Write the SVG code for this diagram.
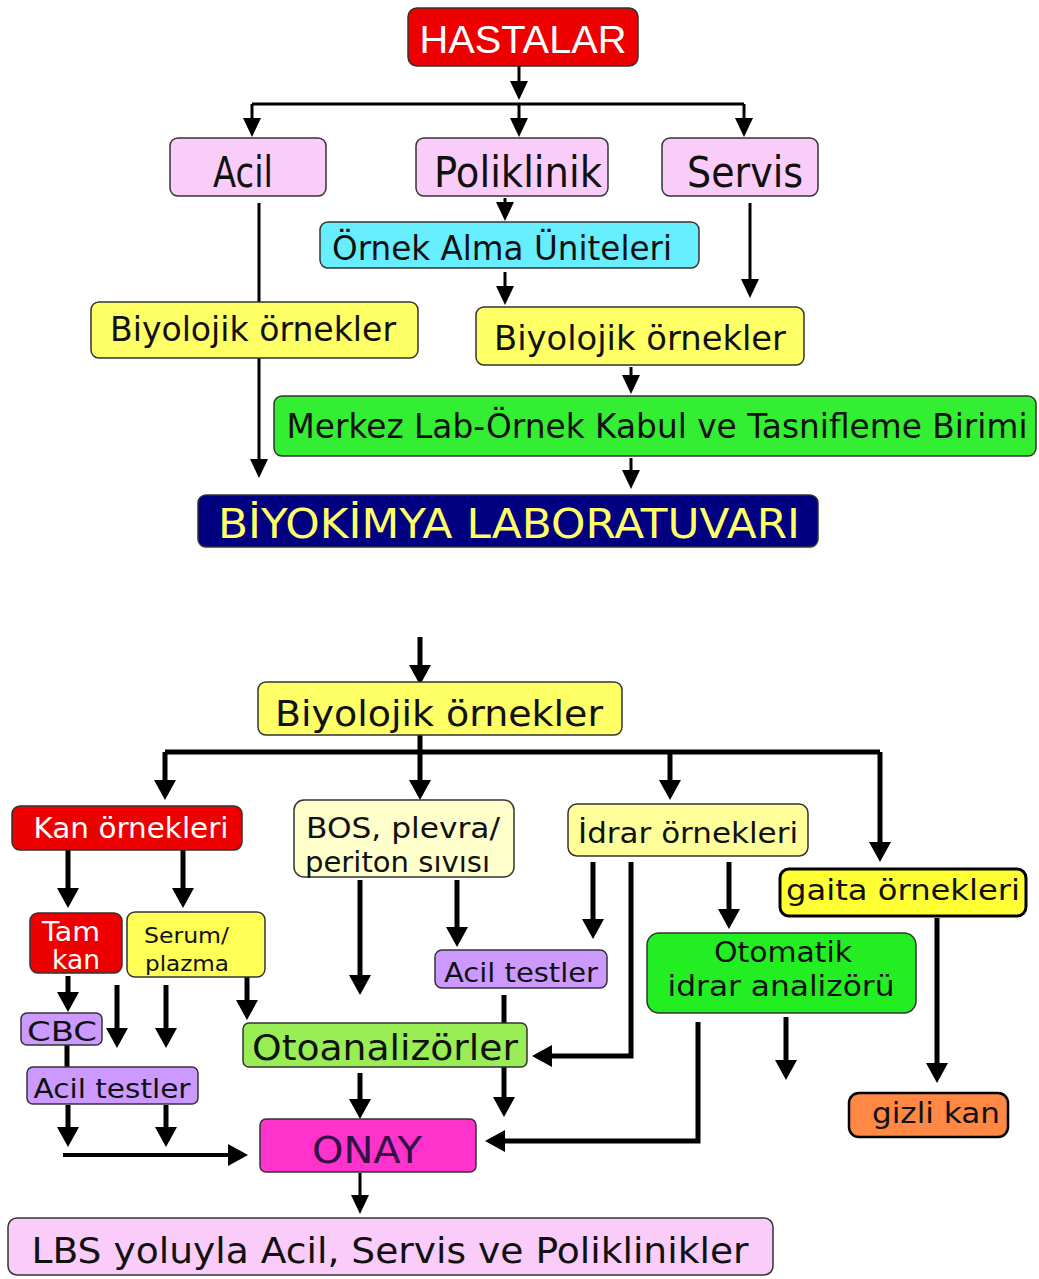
<svg xmlns="http://www.w3.org/2000/svg" width="1039" height="1279" viewBox="0 0 1039 1279">
<defs>
<style>
.b{stroke:#333;stroke-width:1.5}
.t{font-family:"DejaVu Sans","Verdana",sans-serif;fill:#111}
.c{text-anchor:middle}
.ln{fill:none;stroke:#000;stroke-width:3}
.lk{fill:none;stroke:#000;stroke-width:5}
</style>
<marker id="a" markerUnits="userSpaceOnUse" markerWidth="19" markerHeight="18" viewBox="0 0 19 18" refX="15" refY="9" orient="auto"><path d="M0,0 L19,9 L0,18 z" fill="#000"/></marker>
<marker id="k" markerUnits="userSpaceOnUse" markerWidth="20" markerHeight="22" viewBox="0 0 20 22" refX="15" refY="11" orient="auto"><path d="M0,0 L20,11 L0,22 z" fill="#000"/></marker>
</defs>
<rect width="1039" height="1279" fill="#fff"/>
<g id="connectors">
<path class="ln" d="M519,66 V96" marker-end="url(#a)"/>
<path class="ln" d="M252,104 H744"/>
<path class="ln" d="M252,104 V133" marker-end="url(#a)"/>
<path class="ln" d="M519,104 V133" marker-end="url(#a)"/>
<path class="ln" d="M744,104 V133" marker-end="url(#a)"/>
<path class="ln" d="M259,203 V474" marker-end="url(#a)"/>
<path class="ln" d="M505,198 V217" marker-end="url(#a)"/>
<path class="ln" d="M505,272 V301" marker-end="url(#a)"/>
<path class="ln" d="M750,203 V294" marker-end="url(#a)"/>
<path class="ln" d="M631,367 V390" marker-end="url(#a)"/>
<path class="ln" d="M631,458 V485" marker-end="url(#a)"/>
<path class="lk" d="M420,637 V680" marker-end="url(#k)"/>
<path class="lk" d="M420,735 V752"/>
<path class="lk" d="M165,752 H880"/>
<path class="lk" d="M165,752 V795" marker-end="url(#k)"/>
<path class="lk" d="M420,752 V795" marker-end="url(#k)"/>
<path class="lk" d="M670,752 V795" marker-end="url(#k)"/>
<path class="lk" d="M880,752 V857" marker-end="url(#k)"/>
<path class="lk" d="M68,850 V903" marker-end="url(#k)"/>
<path class="lk" d="M183,850 V903" marker-end="url(#k)"/>
<path class="lk" d="M68,976 V1007" marker-end="url(#k)"/>
<path class="lk" d="M117,985 V1043" marker-end="url(#k)"/>
<path class="lk" d="M166,985 V1043" marker-end="url(#k)"/>
<path class="lk" d="M247,977 V1015" marker-end="url(#k)"/>
<path class="lk" d="M67,1045 V1067"/>
<path class="lk" d="M68,1105 V1142" marker-end="url(#k)"/>
<path class="lk" d="M166,1105 V1142" marker-end="url(#k)"/>
<path class="ln" style="stroke-width:4" d="M63,1155 H243" marker-end="url(#k)"/>
<path class="lk" d="M360,880 V990" marker-end="url(#k)"/>
<path class="lk" d="M457,880 V942" marker-end="url(#k)"/>
<path class="lk" d="M593,862 V934" marker-end="url(#k)"/>
<path class="lk" d="M631,862 V1056 H537" marker-end="url(#k)"/>
<path class="lk" d="M729,862 V924" marker-end="url(#k)"/>
<path class="lk" d="M504,995 V1112" marker-end="url(#k)"/>
<path class="lk" d="M360,1073 V1114" marker-end="url(#k)"/>
<path class="lk" d="M698,1022 V1141 H490" marker-end="url(#k)"/>
<path class="lk" d="M786,1017 V1075" marker-end="url(#k)"/>
<path class="lk" d="M937,918 V1078" marker-end="url(#k)"/>
<path class="ln" d="M360,1173 V1210" marker-end="url(#a)"/>
</g>
<g id="hastalar"><rect class="b" x="408" y="8" width="230" height="58" rx="9" fill="#ee0000"/><text x="523" y="53" font-family="Liberation Sans, Arial, sans-serif" font-size="38" fill="#fff" text-anchor="middle" textLength="207" lengthAdjust="spacingAndGlyphs">HASTALAR</text></g>
<g id="acil"><rect class="b" x="170" y="138" width="156" height="58" rx="8" fill="#f9ccf9"/><text class="t c" x="243" y="187" font-size="42" textLength="60" lengthAdjust="spacingAndGlyphs">Acil</text></g>
<g id="poliklinik"><rect class="b" x="416" y="138" width="192" height="58" rx="8" fill="#f9ccf9"/><text class="t c" x="518" y="187" font-size="42" textLength="168" lengthAdjust="spacingAndGlyphs">Poliklinik</text></g>
<g id="servis"><rect class="b" x="662" y="138" width="156" height="58" rx="8" fill="#f9ccf9"/><text class="t c" x="745" y="187" font-size="42" textLength="116" lengthAdjust="spacingAndGlyphs">Servis</text></g>
<g id="ornek-alma"><rect class="b" x="320" y="222" width="379" height="46" rx="8" fill="#66eeff"/><text class="t c" x="502" y="260" font-size="33" textLength="340" lengthAdjust="spacingAndGlyphs">Örnek Alma Üniteleri</text></g>
<g id="biyolojik-1"><rect class="b" x="91" y="302" width="327" height="56" rx="8" fill="#ffff66"/><text class="t c" x="253" y="341" font-size="33" textLength="286" lengthAdjust="spacingAndGlyphs">Biyolojik örnekler</text></g>
<g id="biyolojik-2"><rect class="b" x="476" y="307" width="328" height="58" rx="8" fill="#ffff66"/><text class="t c" x="640" y="350" font-size="33" textLength="292" lengthAdjust="spacingAndGlyphs">Biyolojik örnekler</text></g>
<g id="merkez"><rect class="b" x="274" y="396" width="762" height="60" rx="8" fill="#33ee33"/><text class="t c" x="657" y="438" font-size="33" textLength="741" lengthAdjust="spacingAndGlyphs">Merkez Lab-Örnek Kabul ve Tasnifleme Birimi</text></g>
<g id="biyokimya"><rect class="b" x="198" y="495" width="620" height="52" rx="8" fill="#000080"/><text class="t c" x="509" y="538" font-size="40" style="fill:#ffff66" textLength="582" lengthAdjust="spacingAndGlyphs">BİYOKİMYA LABORATUVARI</text></g>
<g id="biyolojik-3"><rect class="b" x="258" y="682" width="364" height="53" rx="8" fill="#ffff66"/><text class="t c" x="439" y="726" font-size="36" textLength="328" lengthAdjust="spacingAndGlyphs">Biyolojik örnekler</text></g>
<g id="kan-ornekleri"><rect class="b" x="12" y="806" width="230" height="44" rx="8" fill="#ee0000"/><text class="t c" x="131" y="838" font-size="28" style="fill:#fff" textLength="195" lengthAdjust="spacingAndGlyphs">Kan örnekleri</text></g>
<g id="bos"><rect class="b" x="294" y="800" width="220" height="77" rx="10" fill="#ffffcc"/><text class="t" x="306" y="838" font-size="28" textLength="194" lengthAdjust="spacingAndGlyphs">BOS, plevra/</text><text class="t" x="305" y="872" font-size="28" textLength="185" lengthAdjust="spacingAndGlyphs">periton sıvısı</text></g>
<g id="idrar-ornekleri"><rect class="b" x="568" y="804" width="240" height="52" rx="9" fill="#ffff99"/><text class="t c" x="688" y="843" font-size="28" textLength="220" lengthAdjust="spacingAndGlyphs">İdrar örnekleri</text></g>
<g id="gaita"><rect x="780" y="869" width="246" height="47" rx="9" fill="#ffff33" stroke="#000" stroke-width="3"/><text class="t c" x="903" y="900" font-size="28" textLength="234" lengthAdjust="spacingAndGlyphs">gaita örnekleri</text></g>
<g id="tam-kan"><rect class="b" x="30" y="913" width="92" height="60" rx="8" fill="#ee0000"/><text class="t c" x="71" y="941" font-size="26" style="fill:#fff" textLength="58" lengthAdjust="spacingAndGlyphs">Tam</text><text class="t c" x="76" y="969" font-size="26" style="fill:#fff" textLength="48" lengthAdjust="spacingAndGlyphs">kan</text></g>
<g id="serum"><rect class="b" x="127" y="912" width="138" height="65" rx="8" fill="#ffff55"/><text class="t" x="144" y="943" font-size="22" textLength="85" lengthAdjust="spacingAndGlyphs">Serum/</text><text class="t" x="145" y="971" font-size="22" textLength="84" lengthAdjust="spacingAndGlyphs">plazma</text></g>
<g id="cbc"><rect class="b" x="21" y="1013" width="81" height="32" rx="6" fill="#cc99ff"/><text class="t c" x="62" y="1041" font-size="26" textLength="70" lengthAdjust="spacingAndGlyphs">CBC</text></g>
<g id="acil-testler-1"><rect class="b" x="27" y="1067" width="171" height="37" rx="6" fill="#cc99ff"/><text class="t c" x="112" y="1098" font-size="26" textLength="157" lengthAdjust="spacingAndGlyphs">Acil testler</text></g>
<g id="acil-testler-2"><rect class="b" x="435" y="950" width="172" height="38" rx="7" fill="#cc99ff"/><text class="t c" x="521" y="982" font-size="27" textLength="154" lengthAdjust="spacingAndGlyphs">Acil testler</text></g>
<g id="otoanalizorler"><rect class="b" x="243" y="1023" width="284" height="44" rx="6" fill="#99ee55"/><text class="t c" x="385" y="1060" font-size="36" textLength="266" lengthAdjust="spacingAndGlyphs">Otoanalizörler</text></g>
<g id="otomatik"><rect class="b" x="647" y="933" width="269" height="80" rx="12" fill="#22ee22"/><text class="t c" x="783" y="962" font-size="28" textLength="138" lengthAdjust="spacingAndGlyphs">Otomatik</text><text class="t c" x="781" y="996" font-size="28" textLength="227" lengthAdjust="spacingAndGlyphs">idrar analizörü</text></g>
<g id="onay"><rect class="b" x="260" y="1119" width="216" height="53" rx="6" fill="#ff33cc"/><text class="t c" x="367" y="1163" font-size="38" style="fill:#331144" textLength="110" lengthAdjust="spacingAndGlyphs">ONAY</text></g>
<g id="gizli-kan"><rect x="849" y="1093" width="159" height="44" rx="10" fill="#ff8844" stroke="#000" stroke-width="2.5"/><text class="t c" x="936" y="1123" font-size="28" textLength="128" lengthAdjust="spacingAndGlyphs">gizli kan</text></g>
<g id="lbs"><rect class="b" x="8" y="1218" width="765" height="57" rx="9" fill="#f9ccf9"/><text class="t c" x="390" y="1263" font-size="36" textLength="717" lengthAdjust="spacingAndGlyphs">LBS yoluyla Acil, Servis ve Poliklinikler</text></g>
</svg>
